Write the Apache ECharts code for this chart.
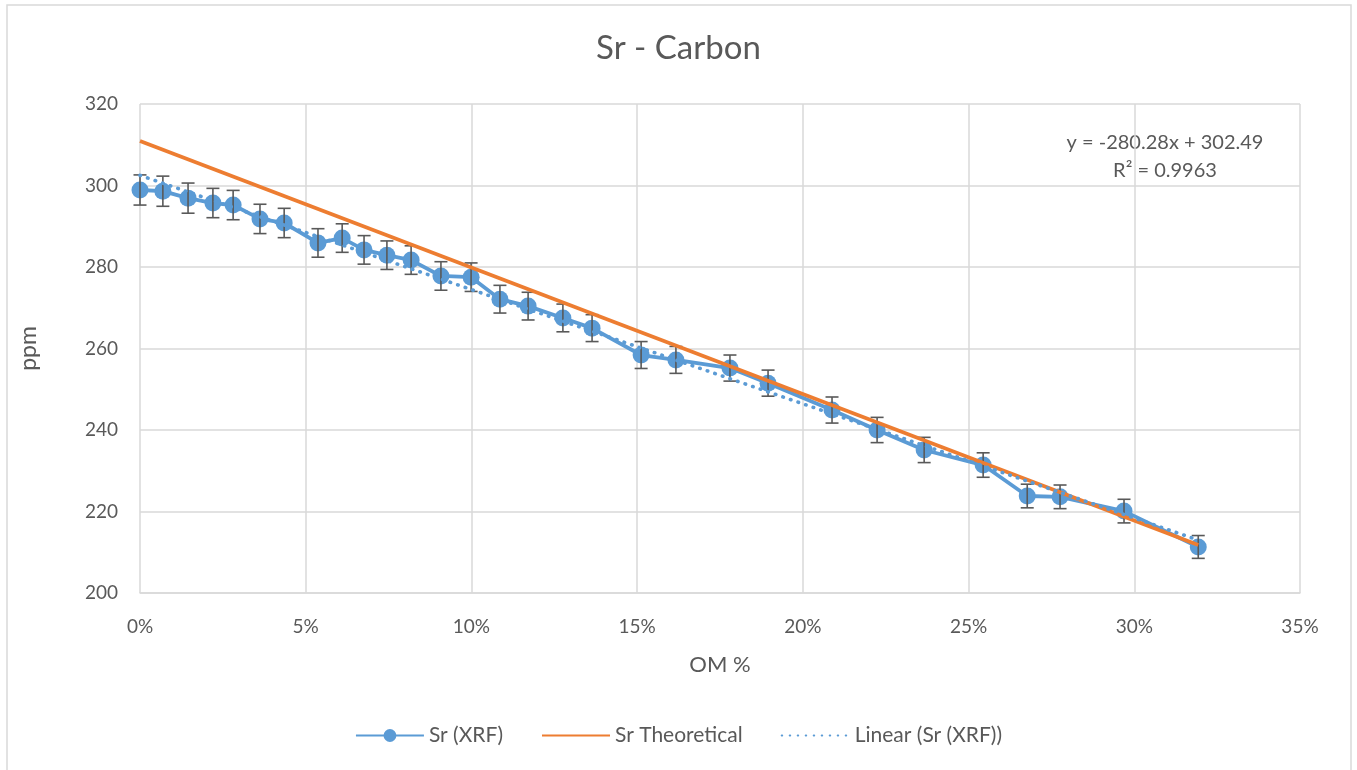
<!doctype html>
<html lang="en">
<head>
    <meta charset="UTF-8">
    <title>Sr - Carbon</title>
    <style>
        html, body { margin: 0; padding: 0; background: #fff; }
    </style>
</head>
<body>
<div id="myChart" style="width: 1357px;height: 770px"></div>
<script src="https://cdn.jsdelivr.net/npm/echarts@6/dist/echarts.min.js"></script>
<script>
    // OM fraction (x) and measured Sr ppm with error bar half-widths
    var omVals = [0, 0.0069, 0.0145, 0.022, 0.0281, 0.0362, 0.0435, 0.0537, 0.061, 0.0676,
        0.0745, 0.0818, 0.0908, 0.0999, 0.1086, 0.1171, 0.1276, 0.1364, 0.1512, 0.1617,
        0.178, 0.1895, 0.2088, 0.2224, 0.2366, 0.2544, 0.2677, 0.2776, 0.2969, 0.3193];
    var srVals = [298.9, 298.6, 296.9, 295.7, 295.2, 291.8, 290.8, 285.9, 287.1, 284.2,
        282.9, 281.7, 277.8, 277.5, 272.1, 270.4, 267.5, 265.0, 258.4, 257.2,
        255.2, 251.5, 244.9, 240.0, 235.1, 231.4, 223.8, 223.6, 220.1, 211.3];
    var srErr = [3.7, 3.7, 3.7, 3.6, 3.6, 3.6, 3.6, 3.5, 3.5, 3.5,
        3.5, 3.5, 3.5, 3.5, 3.4, 3.4, 3.4, 3.3, 3.3, 3.3,
        3.2, 3.2, 3.2, 3.1, 3.1, 3.0, 2.9, 2.9, 2.9, 2.8];
    // theoretical dilution line end points
    var theoX = [0, 0.3193];
    var theoY = [310.9, 211.8];
    // excel trendline y = -280.28x + 302.49
    var trendX = [0, 0.3193];
    var trendY = [302.49, 212.99];
    var xTicks = ['0%', '5%', '10%', '15%', '20%', '25%', '30%', '35%'];

    var font = 'Lato, "Open Sans", sans-serif';
    var grey = '#595959';
    var blue = '#5B9BD5';
    var orange = '#ED7D31';

    var myChart = echarts.init(document.getElementById('myChart'));

    function pairs(xs, ys) {
        return xs.map(function (x, i) { return [x, ys[i]]; });
    }

    var option = {
        backgroundColor: '#fff',
        animation: false,
        textStyle: {fontFamily: font},
        title: {
            text: 'Sr - Carbon',
            left: 'center',
            top: 27,
            textStyle: {fontFamily: font, fontSize: 33, fontWeight: 'normal', color: grey}
        },
        legend: {
            data: [
                {name: 'Sr (XRF)'},
                {name: 'Sr Theoretical', itemStyle: {opacity: 0}},
                {name: 'Linear (Sr (XRF))', itemStyle: {opacity: 0}}
            ],
            left: 'center',
            top: 720,
            itemWidth: 68,
            itemHeight: 16,
            itemGap: 38,
            textStyle: {fontFamily: font, fontSize: 21, color: grey}
        },
        grid: {
            left: 140,
            right: 57,
            top: 104,
            bottom: 177
        },
        xAxis: {
            type: 'value',
            min: 0,
            max: 0.35,
            interval: 0.05,
            name: 'OM %',
            nameLocation: 'middle',
            nameGap: 61,
            nameTextStyle: {fontFamily: font, fontSize: 22, color: grey},
            axisLine: {show: true, lineStyle: {color: '#d9d9d9', width: 1.5}},
            axisTick: {show: false},
            axisLabel: {
                fontFamily: font, fontSize: 19, color: grey, margin: 24,
                formatter: function (v) { return xTicks[Math.round(v / 0.05)]; }
            },
            splitLine: {show: true, lineStyle: {color: '#d9d9d9', width: 1.5}}
        },
        yAxis: {
            type: 'value',
            min: 200,
            max: 320,
            interval: 20,
            name: 'ppm',
            nameLocation: 'middle',
            nameGap: 100,
            nameRotate: 90,
            nameTextStyle: {fontFamily: font, fontSize: 23, color: grey},
            axisLine: {show: false},
            axisTick: {show: false},
            axisLabel: {fontFamily: font, fontSize: 19, color: grey, margin: 22},
            splitLine: {show: true, lineStyle: {color: '#d9d9d9', width: 1.5}}
        },
        graphic: [
            {
                type: 'rect',
                shape: {x: 7, y: 5, width: 1344, height: 775},
                style: {fill: 'none', stroke: '#d9d9d9', lineWidth: 1.5},
                silent: true
            },
            {
                type: 'text',
                x: 1165,
                y: 157,
                style: {
                    text: 'y = -280.28x + 302.49\nR² = 0.9963',
                    fontFamily: font, fontSize: 20, fill: grey,
                    align: 'center', verticalAlign: 'middle', lineHeight: 28
                }
            }
        ],
        series: [
            {
                name: 'Sr (XRF)',
                type: 'line',
                data: pairs(omVals, srVals),
                symbol: 'circle',
                symbolSize: 17,
                itemStyle: {color: blue},
                lineStyle: {color: blue, width: 3.8},
                z: 2
            },
            {
                name: 'errors',
                type: 'custom',
                data: omVals.map(function (x, i) { return [x, srVals[i], srErr[i]]; }),
                renderItem: function (params, api) {
                    var x = api.value(0), y = api.value(1), e = api.value(2);
                    var top = api.coord([x, y + e]);
                    var bot = api.coord([x, y - e]);
                    var hw = 6.5;
                    var st = {stroke: grey, lineWidth: 1.6};
                    return {
                        type: 'group',
                        children: [
                            {type: 'line', shape: {x1: top[0], y1: top[1], x2: bot[0], y2: bot[1]}, style: st},
                            {type: 'line', shape: {x1: top[0] - hw, y1: top[1], x2: top[0] + hw, y2: top[1]}, style: st},
                            {type: 'line', shape: {x1: bot[0] - hw, y1: bot[1], x2: bot[0] + hw, y2: bot[1]}, style: st}
                        ]
                    };
                },
                z: 3
            },
            {
                name: 'Sr Theoretical',
                type: 'line',
                data: pairs(theoX, theoY),
                symbol: 'none',
                itemStyle: {color: orange},
                lineStyle: {color: orange, width: 3.8},
                z: 4
            },
            {
                name: 'Linear (Sr (XRF))',
                type: 'line',
                data: pairs(trendX, trendY),
                symbol: 'none',
                itemStyle: {color: blue},
                lineStyle: {color: blue, width: 3.6, type: [0.5, 7.5], cap: 'round'},
                z: 5
            }
        ]
    };

    myChart.setOption(option);
</script>
</body>
</html>
